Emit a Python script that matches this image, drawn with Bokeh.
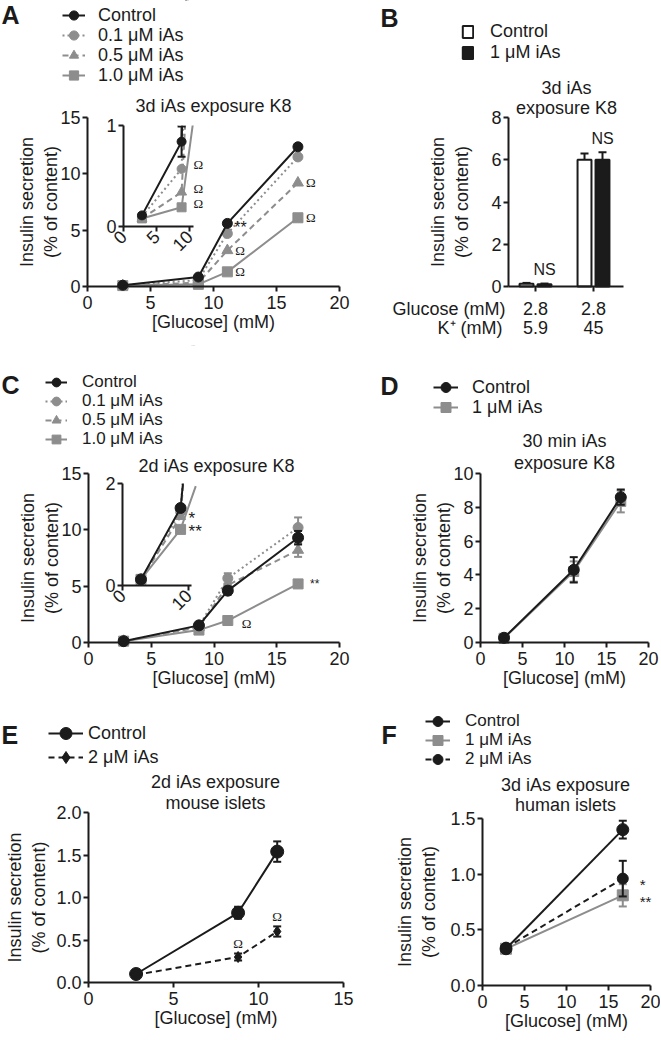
import math
from bokeh.plotting import figure
from bokeh.layouts import row, column
from bokeh.models import (Range1d, LinearAxis, FixedTicker, Legend, LegendItem,
                          Label, PrintfTickFormatter)
from bokeh.core.properties import value
from bokeh.embed import file_html
from bokeh.resources import INLINE

FONT = "Liberation Sans"
SERIF = "Liberation Serif"
BLACK = "#1b1b1b"
GRAY = "#8d8d8d"
FS = "18px"
ROW_H = 21  # rendered height of one 18px legend row

# ---------------- data ----------------
# Panel A : 3d iAs exposure K8
a_glucose = [2.8, 8.8, 11.1, 16.7]
a_control = [0.11, 0.84, 5.6, 12.4]
a_control_sem = [0.02, 0.15, 0.2, 0.2]
a_ias01 = [0.10, 0.57, 4.7, 11.5]
a_ias05 = [0.08, 0.34, 3.2, 9.2]
a_ias10 = [0.08, 0.19, 1.3, 6.1]
a_ticks_x = [0, 5, 10, 15, 20]
a_ticks_y = [0, 5, 10, 15]
a_inset_ticks_x = [0, 5, 10]
a_inset_ticks_y = [0, 1]

# Panel B : 3d iAs exposure K8, high K+
b_groups = [0, 1]
b_glucose_labels = ["2.8", "2.8"]
b_k_labels = ["5.9", "45"]
b_control = [0.13, 6.0]
b_control_sem = [0.04, 0.3]
b_ias1 = [0.11, 6.0]
b_ias1_sem = [0.03, 0.35]
b_ticks_y = [0, 2, 4, 6, 8]

# Panel C : 2d iAs exposure K8
c_glucose = [2.8, 8.8, 11.1, 16.7]
c_control = [0.12, 1.52, 4.6, 9.3]
c_control_sem = [0.02, 0.1, 0.35, 0.6]
c_ias01 = [0.12, 1.45, 5.7, 10.2]
c_ias01_sem = [0.02, 0.1, 0.45, 0.9]
c_ias05 = [0.12, 1.35, 5.1, 8.2]
c_ias05_sem = [0.02, 0.1, 0.5, 0.6]
c_ias10 = [0.12, 1.1, 1.95, 5.2]
c_ias10_sem = [0.02, 0.08, 0.15, 0.2]
c_inset_ticks_x = [0, 10]
c_inset_ticks_y = [0, 2]

# Panel D : 30 min iAs exposure K8
d_glucose = [2.8, 11.1, 16.7]
d_control = [0.28, 4.3, 8.6]
d_control_sem = [0.05, 0.75, 0.45]
d_ias1 = [0.25, 4.2, 8.35]
d_ias1_sem = [0.05, 0.6, 0.65]
d_ticks_y = [0, 2, 4, 6, 8, 10]

# Panel E : mouse islets
e_glucose = [2.8, 8.8, 11.1]
e_control = [0.10, 0.82, 1.54]
e_control_sem = [0.01, 0.07, 0.12]
e_ias2 = [0.09, 0.30, 0.60]
e_ias2_sem = [0.01, 0.04, 0.06]
e_ticks_x = [0, 5, 10, 15]
e_ticks_y = [0, 0.5, 1.0, 1.5, 2.0]

# Panel F : human islets
f_glucose = [2.8, 16.7]
f_control = [0.33, 1.40]
f_control_sem = [0.02, 0.08]
f_ias1 = [0.33, 0.81]
f_ias1_sem = [0.02, 0.10]
f_ias2 = [0.34, 0.96]
f_ias2_sem = [0.02, 0.16]
f_ticks_y = [0, 0.5, 1.0, 1.5]

YLABEL = "Insulin secretion\n(% of content)"
XLABEL = "[Glucose] (mM)"


def lin(p, pa, a, pb, b):
    return a + (p - pa) * (b - a) / (pb - pa)


def style_axis(ax, ticks, std=2, lstd=0, size=FS):
    ax.ticker = FixedTicker(ticks=ticks, minor_ticks=[])
    ax.axis_line_width = 2
    ax.axis_line_color = BLACK
    ax.major_tick_line_width = 2
    ax.major_tick_line_color = BLACK
    ax.major_tick_out = 5
    ax.major_tick_in = 0
    ax.minor_tick_line_color = None
    ax.major_label_text_font = FONT
    ax.major_label_text_font_size = size
    ax.major_label_text_color = BLACK
    ax.major_label_standoff = std
    ax.axis_label_text_font = FONT
    ax.axis_label_text_font_size = size
    ax.axis_label_text_font_style = "normal"
    ax.axis_label_text_color = BLACK
    ax.axis_label_standoff = lstd
    return ax


class Panel:
    """One figure whose frame fills the whole figure; screen <-> data via lin()."""

    def __init__(self, box, xmap, ymap):
        bx, by, bw, bh = box
        self.bx, self.by, self.bw, self.bh = box
        self.xmap, self.ymap = xmap, ymap
        p = figure(width=bw, height=bh,
                   x_range=Range1d(lin(bx, *xmap), lin(bx + bw, *xmap)),
                   y_range=Range1d(lin(by + bh, *ymap), lin(by, *ymap)),
                   min_border=0, min_border_left=0, min_border_right=0,
                   min_border_top=0, min_border_bottom=0,
                   toolbar_location=None, output_backend="svg",
                   x_axis_location=None, y_axis_location=None)
        p.outline_line_color = None
        p.grid.visible = False
        p.background_fill_color = "white"
        p.border_fill_color = "white"
        self.p = p

    def dx(self, sx):
        return lin(sx, *self.xmap)

    def dy(self, sy):
        return lin(sy, *self.ymap)

    def label(self, sx, sy, text, size=FS, align="center", style="normal"):
        self.p.add_layout(Label(x=self.dx(sx), y=self.dy(sy), text=text,
                                text_align=align, text_baseline="middle",
                                text_font=FONT, text_font_size=size,
                                text_font_style=style, text_color=BLACK))

    def _legend(self, items, loc, gw, gh, lh, spacing, standoff, fs=FS):
        lg = Legend(items=items, location=loc, orientation="vertical",
                    glyph_width=gw, glyph_height=gh, label_height=lh,
                    label_width=10, spacing=spacing, label_standoff=standoff,
                    padding=0, margin=0, border_line_color=None,
                    background_fill_alpha=0, label_text_font=FONT,
                    label_text_font_size=fs, label_text_color=BLACK,
                    label_text_baseline="middle")
        self.p.add_layout(lg)

    def legend_rows(self, items, left, centers, gw, standoff, H=26, fs=FS):
        # one single-entry legend per row, so every row sits exactly where wanted
        for it, yc in zip(items, centers):
            loc = (left - self.bx, self.by + self.bh - (yc + H / 2))
            self._legend([it], loc, gw, H, H, 0, standoff, fs)

    def axes(self, xticks, yticks, ystd, xbounds=None, yat=0, yfmt=None,
             xlabel=XLABEL, xstd=4):
        xb = xbounds if xbounds is not None else (0, max(xticks))
        xa = LinearAxis(axis_label=xlabel, fixed_location=0, bounds=xb)
        style_axis(xa, xticks, std=xstd, lstd=0)
        self.p.add_layout(xa, "below")
        ya = LinearAxis(axis_label=YLABEL, fixed_location=yat,
                        bounds=(min(yticks), max(yticks)))
        style_axis(ya, yticks, std=2, lstd=ystd)
        if yfmt:
            ya.formatter = PrintfTickFormatter(format=yfmt)
        self.p.add_layout(ya, "left")
        return xa, ya


def series(p, x, y, color, marker, size, dash="solid", sem=None, rng=None, cap=8,
           npts=None):
    kw = {} if rng is None else dict(x_range_name=rng[0], y_range_name=rng[1])
    if sem is not None:
        lo = [a - s for a, s in zip(y, sem)]
        hi = [a + s for a, s in zip(y, sem)]
        p.segment(x0=x, y0=lo, x1=x, y1=hi, line_color=color, line_width=2, **kw)
        p.scatter(x=list(x) + list(x), y=lo + hi, marker="dash", size=cap,
                  line_color=color, line_width=2, **kw)
    ln = p.line(x, y, line_color=color, line_width=2, line_dash=dash, **kw)
    mx, my = (x, y) if npts is None else (x[:npts], y[:npts])
    mk = p.scatter(mx, my, marker=marker, size=size, fill_color=color,
                   line_color=color, **kw)
    return ln, mk


def marks(p, xs, ys, texts, dx, dy, size="16px", font=FONT, rng=None, align="left"):
    kw = {} if rng is None else dict(x_range_name=rng[0], y_range_name=rng[1])
    p.text(x=xs, y=ys, text=texts, x_offset=dx, y_offset=dy,
           text_font=value(font), text_font_size=value(size), text_color=BLACK,
           text_align=align, text_baseline="middle", **kw)


def add_inset(P, name, xmap, ymap, xbound, xticks, yticks):
    p = P.p
    x0, x1 = lin(P.bx, *xmap), lin(P.bx + P.bw, *xmap)
    y0, y1 = lin(P.by + P.bh, *ymap), lin(P.by, *ymap)
    p.extra_x_ranges[name + "x"] = Range1d(x0, x1)
    p.extra_y_ranges[name + "y"] = Range1d(y0, y1)
    rng = (name + "x", name + "y")
    ya = LinearAxis(x_range_name=rng[0], y_range_name=rng[1], fixed_location=0,
                    bounds=(0, max(yticks)))
    style_axis(ya, yticks, std=2)
    p.add_layout(ya, "left")
    xa = LinearAxis(x_range_name=rng[0], y_range_name=rng[1], fixed_location=0,
                    bounds=(0, xbound), major_label_orientation=math.pi / 4)
    style_axis(xa, xticks, std=2)
    p.add_layout(xa, "below")
    return rng


def inset_mask(P, rng, xbound, ytop):
    # white cover hiding the inset lines where they run out of the inset box
    y_end = P.p.extra_y_ranges[rng[1]].end
    P.p.quad(left=[xbound - 2.3], right=[xbound + 1.6], bottom=[ytop], top=[y_end],
             fill_color="white", fill_alpha=1.0, line_color=None,
             x_range_name=rng[0], y_range_name=rng[1])


# ================= Panel A =================
A = Panel(box=(0, 0, 350, 345), xmap=(87, 0, 339, 20), ymap=(286, 0, 117, 15))
A.axes(a_ticks_x, a_ticks_y, ystd=-4)
r10 = series(A.p, a_glucose, a_ias10, GRAY, "square", 10)
r05 = series(A.p, a_glucose, a_ias05, GRAY, "triangle", 11, dash="6 4")
r01 = series(A.p, a_glucose, a_ias01, GRAY, "circle", 10, dash="2 3")
rc = series(A.p, a_glucose, a_control, BLACK, "circle", 10, sem=a_control_sem)
ia = add_inset(A, "ia", (123, 0, 189, 10), (226, 0, 125, 1), 10.6,
               a_inset_ticks_x, a_inset_ticks_y)
series(A.p, a_glucose[:3], a_ias10[:3], GRAY, "square", 9, rng=ia, npts=2)
series(A.p, a_glucose[:3], a_ias05[:3], GRAY, "triangle", 10, dash="6 4", rng=ia, npts=2)
series(A.p, a_glucose[:3], a_ias01[:3], GRAY, "circle", 9, dash="2 3", rng=ia, npts=2)
series(A.p, a_glucose[:3], a_control[:3], BLACK, "circle", 9,
       sem=a_control_sem[:3], rng=ia, npts=2)
inset_mask(A, ia, 10.6, max(a_inset_ticks_y))
marks(A.p, [a_glucose[2], a_glucose[2], a_glucose[3], a_glucose[3]],
      [a_ias05[2], a_ias10[2], a_ias05[3], a_ias10[3]], ["Ω"] * 4, 8, 0,
      size="13px", font=SERIF)
marks(A.p, [a_glucose[2]], [a_ias01[2]], ["**"], 7, -6, size="16px")
marks(A.p, [a_glucose[1]] * 3, [a_ias01[1], a_ias05[1], a_ias10[1]], ["Ω"] * 3,
      12, -4, size="13px", font=SERIF, rng=ia)
A.legend_rows([LegendItem(label="Control", renderers=list(rc)),
               LegendItem(label="0.1 μM iAs", renderers=list(r01)),
               LegendItem(label="0.5 μM iAs", renderers=list(r05)),
               LegendItem(label="1.0 μM iAs", renderers=list(r10))],
              left=62, centers=[15, 35, 55, 75], gw=23, standoff=13)
A.label(213, 105, "3d iAs exposure K8")
A.label(1, 14, "A", size="25px", align="left", style="bold")

# ================= Panel B =================
B = Panel(box=(350, 0, 310, 345), xmap=(535, 0, 593, 1), ymap=(286, 0, 117, 8))
bxa = LinearAxis(fixed_location=0, bounds=(B.dx(508), B.dx(623)))
style_axis(bxa, b_groups, std=4)
bxa.major_label_overrides = {g: "" for g in b_groups}
B.p.add_layout(bxa, "below")
bya = LinearAxis(axis_label=YLABEL, fixed_location=B.dx(508), bounds=(0, 8))
style_axis(bya, b_ticks_y, std=2, lstd=16)
B.p.add_layout(bya, "left")
bw = 0.24
off = 0.155
xc = [g - off for g in b_groups]
xi = [g + off for g in b_groups]
for xs, ys, sem in ((xc, b_control, b_control_sem), (xi, b_ias1, b_ias1_sem)):
    top = [a + s for a, s in zip(ys, sem)]
    B.p.segment(x0=xs, y0=ys, x1=xs, y1=top, line_color=BLACK, line_width=2)
    B.p.scatter(x=xs, y=top, marker="dash", size=8, line_color=BLACK, line_width=2)
bc = B.p.vbar(x=xc, top=b_control, width=bw, fill_color="white",
              line_color=BLACK, line_width=2)
bi = B.p.vbar(x=xi, top=b_ias1, width=bw, fill_color=BLACK,
              line_color=BLACK, line_width=2)
marks(B.p, xi, [a + s for a, s in zip(b_ias1, b_ias1_sem)], ["NS", "NS"], 0, -14,
      size="16px", align="center")
marks(B.p, b_groups, [B.dy(308)] * 2, b_glucose_labels, 0, 0, size=FS, align="center")
marks(B.p, b_groups, [B.dy(327)] * 2, b_k_labels, 0, 0, size=FS, align="center")
B._legend([LegendItem(label="Control", renderers=[bc]),
           LegendItem(label="1 μM iAs", renderers=[bi])],
          (461 - B.bx, B.by + B.bh - (52 + ROW_H / 2)), 13, 15, 19, -2, 16)
B.label(566, 87, "3d iAs")
B.label(566, 107, "exposure K8")
B.label(505, 308, "Glucose (mM)", align="right")
B.label(502, 327, "K⁺ (mM)", align="right")
B.label(380, 17, "B", size="25px", align="left", style="bold")

# ================= Panel C =================
C = Panel(box=(0, 345, 350, 350), xmap=(88, 0, 339, 20), ymap=(642, 0, 473, 15))
C.axes(a_ticks_x, a_ticks_y, ystd=-4)
s10 = series(C.p, c_glucose, c_ias10, GRAY, "square", 10, sem=c_ias10_sem)
s05 = series(C.p, c_glucose, c_ias05, GRAY, "triangle", 11, dash="6 4", sem=c_ias05_sem)
s01 = series(C.p, c_glucose, c_ias01, GRAY, "circle", 10, dash="2 3", sem=c_ias01_sem)
sc = series(C.p, c_glucose, c_control, BLACK, "circle", 11, sem=c_control_sem)
ic = add_inset(C, "ic", (122, 0, 188, 10), (585, 0, 483, 2), 10.5,
               c_inset_ticks_x, c_inset_ticks_y)
series(C.p, c_glucose[:3], c_ias10[:3], GRAY, "square", 10, rng=ic, npts=2)
series(C.p, c_glucose[:3], c_ias05[:3], GRAY, "triangle", 10, dash="6 4", rng=ic, npts=2)
series(C.p, c_glucose[:3], c_ias01[:3], GRAY, "circle", 10, dash="2 3", rng=ic, npts=2)
series(C.p, c_glucose[:3], c_control[:3], BLACK, "circle", 11, rng=ic, npts=2)
inset_mask(C, ic, 10.5, max(c_inset_ticks_y))
marks(C.p, [c_glucose[2]], [c_ias10[2]], ["Ω"], 14, 3, size="13px", font=SERIF)
marks(C.p, [c_glucose[3]], [c_ias10[3]], ["**"], 12, 0, size="12px")
marks(C.p, [c_glucose[1], c_glucose[1]], [c_ias05[1], c_ias10[1]], ["*", "**"],
      8, 2, size="17px", rng=ic)
C.legend_rows([LegendItem(label="Control", renderers=list(sc)),
               LegendItem(label="0.1 μM iAs", renderers=list(s01)),
               LegendItem(label="0.5 μM iAs", renderers=list(s05)),
               LegendItem(label="1.0 μM iAs", renderers=list(s10))],
              left=45, centers=[382, 401, 420, 439], gw=22, standoff=15, fs="17px")
C.label(216, 465, "2d iAs exposure K8")
C.label(1, 384, "C", size="25px", align="left", style="bold")

# ================= Panel D =================
D = Panel(box=(350, 345, 310, 350), xmap=(480, 0, 648, 20), ymap=(642, 0, 473, 10))
D.axes(a_ticks_x, d_ticks_y, ystd=-4)
t1 = series(D.p, d_glucose, d_ias1, GRAY, "square", 10, sem=d_ias1_sem)
tc = series(D.p, d_glucose, d_control, BLACK, "circle", 11, sem=d_control_sem)
D.legend_rows([LegendItem(label="Control", renderers=list(tc)),
               LegendItem(label="1 μM iAs", renderers=list(t1))],
              left=433, centers=[387, 407], gw=25, standoff=14)
D.label(564, 440, "30 min iAs")
D.label(564, 462, "exposure K8")
D.label(380, 385, "D", size="25px", align="left", style="bold")

# ================= Panel E =================
E = Panel(box=(0, 695, 354, 344), xmap=(88, 0, 343, 15), ymap=(982, 0, 812, 2))
E.axes(e_ticks_x, e_ticks_y, ystd=4, yfmt="%.1f")
u2 = series(E.p, e_glucose, e_ias2, BLACK, "diamond", 11, dash="6 4", sem=e_ias2_sem)
uc = series(E.p, e_glucose, e_control, BLACK, "circle", 13, sem=e_control_sem)
marks(E.p, e_glucose[1:], [a + s for a, s in zip(e_ias2[1:], e_ias2_sem[1:])],
      ["Ω", "Ω"], 0, -10, size="13px", font=SERIF, align="center")
E.legend_rows([LegendItem(label="Control", renderers=list(uc)),
               LegendItem(label="2 μM iAs", renderers=list(u2))],
              left=48, centers=[733, 757], gw=35, standoff=5, H=30)
E.label(215, 781, "2d iAs exposure")
E.label(215, 802, "mouse islets")
E.label(1, 734, "E", size="25px", align="left", style="bold")

# ================= Panel F =================
F = Panel(box=(354, 695, 306, 344), xmap=(482, 0, 650, 20), ymap=(985, 0, 818, 1.5))
F.axes(a_ticks_x, f_ticks_y, ystd=8, yfmt="%.1f")
v1 = series(F.p, f_glucose, f_ias1, GRAY, "square", 11, sem=f_ias1_sem)
v2 = series(F.p, f_glucose, f_ias2, BLACK, "circle", 11, dash="6 4", sem=f_ias2_sem)
vc = series(F.p, f_glucose, f_control, BLACK, "circle", 12, sem=f_control_sem)
marks(F.p, [f_glucose[1], f_glucose[1]], [f_ias2[1], f_ias1[1]], ["*", "**"],
      17, 6, size="15px")
F.legend_rows([LegendItem(label="Control", renderers=list(vc)),
               LegendItem(label="1 μM iAs", renderers=list(v1)),
               LegendItem(label="2 μM iAs", renderers=list(v2))],
              left=425, centers=[721, 740, 759], gw=25, standoff=15, fs="17px")
F.label(565, 784, "3d iAs exposure")
F.label(565, 804, "human islets")
F.label(381, 734, "F", size="25px", align="left", style="bold")

layout = column(row(A.p, B.p), row(C.p, D.p), row(E.p, F.p))
open("out.html", "w").write(file_html(layout, INLINE, title="Insulin secretion"))
